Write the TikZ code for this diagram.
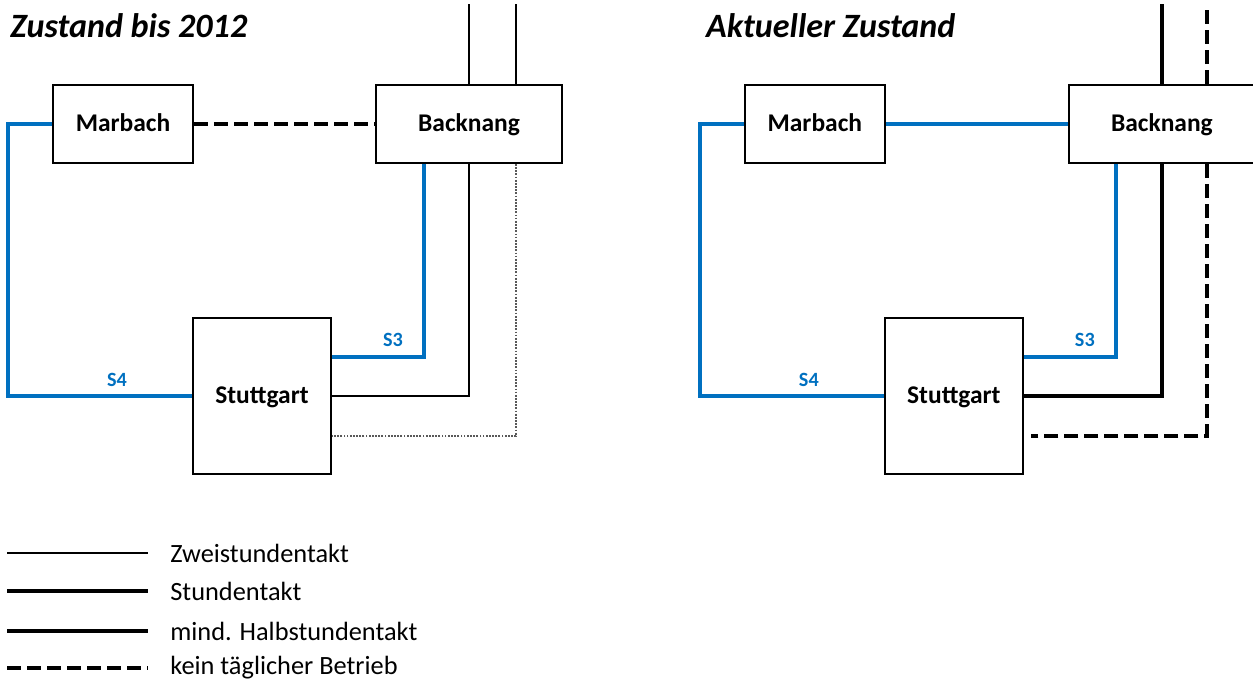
\documentclass[tikz,border=0pt]{standalone}
\usepackage{fontspec}
\setmainfont{Carlito}
\usepackage{xcolor}
\usetikzlibrary{positioning, calc}
\definecolor{sblue}{HTML}{0070C0}
\tikzset{
    station/.style={rectangle, draw, line width=1.1pt, fill=white, font=\fontsize{14.5}{17}\selectfont\bfseries, inner sep=0pt, text height=10pt, text depth=2pt},
    title/.style={anchor=west, inner sep=0pt, font=\fontsize{19.4}{23}\selectfont\bfseries\itshape},
    slabel/.style={inner sep=0pt, text=sblue, font=\fontsize{11.5}{14}\selectfont\bfseries},
    legtext/.style={anchor=west, inner sep=0pt, font=\fontsize{15}{18}\selectfont},
    sbahn/.style={draw=sblue, line width=2.3pt},
    zwei/.style={line width=1.1pt},
    stunde/.style={line width=1.9pt},
    halb/.style={line width=2.7pt},
    keintag/.style={line width=2.2pt, dash pattern=on 8pt off 3.4pt},
    selten/.style={line width=1.1pt, draw=gray!70!black, dash pattern=on 1pt off 0.8pt},
}
\begin{document}
\begin{tikzpicture}[x=0.02cm, y=-0.02cm]
    \useasboundingbox (0,0) rectangle (1253,680);

    % Zustand bis 2012
    \node[title] (tL) at (10,26) {Zustand bis 2012};
    \node[station, minimum width=2.8cm, minimum height=1.56cm] (mL) at (123,124) {Marbach};
    \node[station, minimum width=3.72cm, minimum height=1.56cm] (bL) at (469,124) {Backnang};
    \node[station, minimum width=2.76cm, minimum height=3.12cm] (sL) at (262,396) {Stuttgart};
    \node[slabel] (s4L) at (117,380) {S4};
    \node[slabel] (s3L) at (393,340) {S3};

    \draw[sbahn] (mL.west) -- ++(-44,0) |- (sL.west);
    \draw[keintag] (mL) -- (bL);
    \draw[sbahn] ([xshift=-0.9cm]bL.south) |- ([yshift=0.78cm]sL.east);
    \draw[zwei] (bL.south) |- (sL.east);
    \draw[selten] ([xshift=0.94cm]bL.south) |- ([yshift=-0.8cm]sL.east);
    \draw[zwei] (bL.north) -- ++(0,-80);
    \draw[zwei] ([xshift=0.94cm]bL.north) -- ++(0,-80);

    % Aktueller Zustand
    \begin{scope}[xshift=13.84cm]
        \node[title] (tR) at (14,26) {Aktueller Zustand};
        \node[station, minimum width=2.8cm, minimum height=1.56cm] (mR) at (123,124) {Marbach};
        \node[station, minimum width=3.72cm, minimum height=1.56cm] (bR) at (470,124) {Backnang};
        \node[station, minimum width=2.76cm, minimum height=3.12cm] (sR) at (262,396) {Stuttgart};
        \node[slabel] (s4R) at (117,380) {S4};
        \node[slabel] (s3R) at (393,340) {S3};

        \draw[sbahn] (mR.west) -- ++(-44,0) |- (sR.west);
        \draw[sbahn] (mR) -- (bR);
        \draw[sbahn] ([xshift=-0.92cm]bR.south) |- ([yshift=0.78cm]sR.east);
        \draw[halb] (bR.south) |- (sR.east);
        \draw[keintag] ([xshift=0.9cm]bR.south) |- ([xshift=0.14cm, yshift=-0.8cm]sR.east);
        \draw[halb] (bR.north) -- ++(0,-80);
        \draw[keintag] ([xshift=0.9cm]bR.north) -- ++(0,-80);
    \end{scope}

    % Legende
    \foreach \y/\sty/\txt [count=\i] in {553/zwei/Zweistundentakt, 591/stunde/Stundentakt, 631/halb/mind. Halbstundentakt, 668/keintag/kein täglicher Betrieb} {
        \coordinate (leg\i) at (7,\y);
        \node[legtext] (legtxt\i) at (170,\y) {\txt};
        \draw[\sty] (leg\i) -- ([xshift=-0.44cm]legtxt\i.west |- leg\i);
    }
\end{tikzpicture}
\end{document}
